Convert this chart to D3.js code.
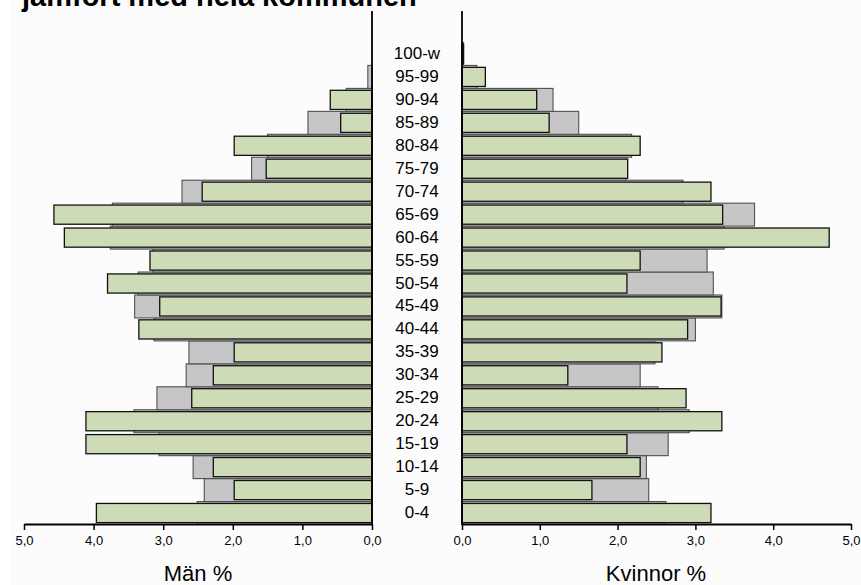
<!DOCTYPE html>
<html>
<head>
<meta charset="utf-8">
<script src="https://cdn.jsdelivr.net/npm/d3@7"></script>
<style>
html,body{margin:0;padding:0;background:#fff;}
svg{display:block;}
text{font-family:"Liberation Sans",Arial,sans-serif;}
</style>
</head>
<body>
<svg id="chart" width="861" height="585"></svg>
<script>
// ---- data ----
const ageGroups = ["0-4","5-9","10-14","15-19","20-24","25-29","30-34","35-39","40-44","45-49","50-54","55-59","60-64","65-69","70-74","75-79","80-84","85-89","90-94","95-99","100-w"];
// Män % – area (green) and whole municipality (gray)
const menArea  = [3.96,1.98,2.28,4.11,4.11,2.59,2.28,1.98,3.35,3.05,3.80,3.19,4.42,4.57,2.44,1.52,1.98,0.45,0.60,0.00,0.00];
const menTotal = [2.51,2.41,2.57,3.06,3.42,3.09,2.67,2.63,3.13,3.41,3.36,3.15,3.76,3.73,2.73,1.73,1.50,0.92,0.37,0.06,0.00];
// Kvinnor %
const womenArea  = [3.20,1.67,2.29,2.12,3.34,2.88,1.36,2.57,2.90,3.33,2.12,2.29,4.72,3.35,3.20,2.13,2.29,1.12,0.96,0.30,0.02];
const womenTotal = [2.62,2.40,2.37,2.65,2.92,2.52,2.29,2.48,3.00,3.34,3.23,3.15,3.37,3.76,2.84,2.11,2.18,1.50,1.17,0.19,0.02];
const xTicks = [0,1,2,3,4,5];
const titleText = "jämfört med hela kommunen";
const menLabel = "Män %";
const womenLabel = "Kvinnor %";

// ---- layout ----
const svg = d3.select("#chart");
svg.append("rect").attr("x",10).attr("y",0).attr("width",851).attr("height",585).attr("fill","#fcfcfc");

const axisY = 524;
const topY = 11;
const xL = d3.scaleLinear().domain([0,5]).range([372,24]);
const xR = d3.scaleLinear().domain([0,5]).range([462,851]);
const y = d3.scaleBand().domain(ageGroups).range([524.5,42.5]).padding(0);
const bw = Math.abs(y.step());
// scaleBand with reversed range: y(c) gives top of band
const inset = 1.9;

const greenFill = "#cddcb6", grayFill = "#c6c6c8";

function drawSide(scale, totals, areas, left){
  const g = svg.append("g");
  g.selectAll("rect.tot").data(ageGroups).join("rect")
    .attr("class","tot")
    .attr("x", (d,i)=> left ? scale(totals[i]) : scale(0))
    .attr("y", d=> y(d))
    .attr("width", (d,i)=> Math.abs(scale(totals[i]) - scale(0)))
    .attr("height", bw)
    .attr("fill", grayFill)
    .attr("stroke", "#505050")
    .attr("stroke-width", 1.1);
  g.selectAll("rect.area").data(ageGroups).join("rect")
    .attr("class","area")
    .attr("x", (d,i)=> left ? scale(areas[i]) : scale(0))
    .attr("y", d=> y(d) + inset)
    .attr("width", (d,i)=> Math.abs(scale(areas[i]) - scale(0)))
    .attr("height", bw - 2*inset)
    .attr("fill", greenFill)
    .attr("stroke", "#111")
    .attr("stroke-width", 1.3);
}
drawSide(xL, menTotal, menArea, true);
drawSide(xR, womenTotal, womenArea, false);

// axes
const fmt = d => d3.format(".1f")(d).replace(".", ",");
function drawAxis(scale){
  const ax = svg.append("g").attr("transform",`translate(0,${axisY})`)
    .call(d3.axisBottom(scale).tickValues(xTicks).tickFormat(fmt).tickSize(6).tickSizeOuter(0));
  ax.select(".domain").attr("stroke","#000").attr("stroke-width",1.8);
  ax.selectAll(".tick line").attr("stroke","#000").attr("stroke-width",1.5);
  ax.selectAll(".tick text").attr("font-size",13).attr("fill","#000").attr("dy","0.95em")
    .attr("font-family","'Liberation Sans',Arial,sans-serif");
}
drawAxis(xL);
drawAxis(xR);

// vertical axis lines
[xL(0), xR(0)].forEach(x=>{
  svg.append("line").attr("x1",x).attr("x2",x).attr("y1",topY).attr("y2",axisY+1)
    .attr("stroke","#000").attr("stroke-width",1.8);
});

// age labels
svg.append("g").selectAll("text").data(ageGroups).join("text")
  .attr("x", 417)
  .attr("y", d=> y(d) + bw/2 + 5)
  .attr("text-anchor","middle")
  .attr("font-size",17)
  .attr("fill","#000")
  .text(d=>d);

// axis titles
svg.append("text").attr("x",198).attr("y",581).attr("text-anchor","middle").attr("font-size",22).text(menLabel);
svg.append("text").attr("x",656).attr("y",581).attr("text-anchor","middle").attr("font-size",22).text(womenLabel);

// title (cut off at top)
svg.append("text").attr("x",22).attr("y",6).attr("font-size",29).attr("font-weight","bold").text(titleText);
</script>
</body>
</html>
